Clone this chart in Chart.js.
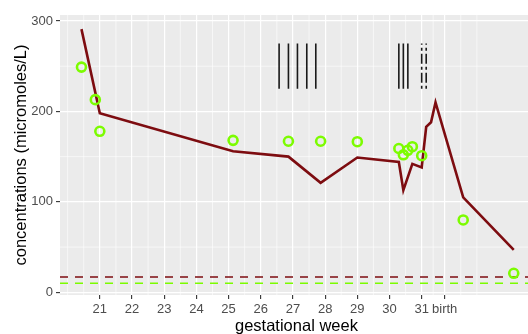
<!DOCTYPE html>
<html>
<head>
<meta charset="utf-8">
<script src="https://cdn.jsdelivr.net/npm/chart.js@4/dist/chart.umd.min.js"></script>
<style>
html,body{margin:0;padding:0;overflow:hidden;background:#fff;}
#wrap{width:540px;height:334px;}
</style>
</head>
<body>
<div id="wrap"><canvas id="c" width="540" height="334"></canvas></div>
<script>
// ---- data ----
const xTickValues = [21, 22, 23, 24, 25, 26, 27, 28, 29, 30, 31, 31.714];
const xTickLabels = ['21', '22', '23', '24', '25', '26', '27', '28', '29', '30', '31', 'birth'];
const yTickValues = [0, 100, 200, 300];
const xMinorGrid = [20, 20.5, 21.5, 22.5, 23.5, 24.5, 25.5, 26.5, 27.5, 28.5, 29.5, 30.5, 31.357, 32.214, 32.714];
const yMinorGrid = [50, 150, 250];

const lineWeeks  = [20.43, 21.0, 25.14, 26.86, 27.86, 29.0, 30.29, 30.43, 30.71, 31.0, 31.14, 31.29, 31.43, 32.29, 33.86];
const lineValues = [291,   198,  156,   150,   121,   149,  144,   113,   142,   138,  183,   188,   210,   105,   47];

const circleWeeks  = [20.43, 20.86, 21.0, 25.14, 26.86, 27.86, 29.0, 30.29, 30.43, 30.57, 30.71, 31.0, 32.29, 33.86];
const circleValues = [249,   213,   178,  168,   167,   167,   166.5, 159,  152,   157,   161,   151,  80,    21];

const solidEventWeeks  = [26.57, 26.86, 27.14, 27.43, 27.71, 30.29, 30.43, 30.57];
const dashedEventWeeks = [31.0, 31.14];
const eventLow = 225, eventHigh = 275;

const redLimit = 17;
const greenLimit = 10;

const xMin = 19.763, xMax = 34.455;
const yMin = -3, yMax = 306.6;

// ---- build datasets ----
const pts = (xs, ys) => xs.map((x, i) => ({x: x, y: ys[i]}));
const segs = (xs) => {
  const out = [];
  xs.forEach(x => { out.push({x: x, y: eventLow}, {x: x, y: eventHigh}, {x: x, y: null}); });
  return out;
};

const RED = '#7d0c10';
const GREEN = '#7CFC00';

const bgPlugin = {
  id: 'panel',
  beforeDraw(chart) {
    const {ctx, chartArea: a, scales} = chart;
    ctx.save();
    ctx.fillStyle = '#EBEBEB';
    ctx.fillRect(a.left, a.top, a.right - a.left, a.bottom - a.top);
    ctx.strokeStyle = '#ffffff';
    ctx.lineWidth = 0.6;
    xMinorGrid.forEach(v => {
      const px = scales.x.getPixelForValue(v);
      ctx.beginPath(); ctx.moveTo(px, a.top); ctx.lineTo(px, a.bottom); ctx.stroke();
    });
    yMinorGrid.forEach(v => {
      const py = scales.y.getPixelForValue(v);
      ctx.beginPath(); ctx.moveTo(a.left, py); ctx.lineTo(a.right, py); ctx.stroke();
    });
    ctx.restore();
  }
};

const font = "'Liberation Sans', Arial, Helvetica, sans-serif";

new Chart(document.getElementById('c'), {
  type: 'scatter',
  data: {
    datasets: [
      { data: [{x: xMin, y: redLimit}, {x: xMax, y: redLimit}], showLine: true, borderColor: RED, borderWidth: 1.5, borderDash: [8, 7], pointRadius: 0, order: 5 },
      { data: [{x: xMin, y: greenLimit}, {x: xMax, y: greenLimit}], showLine: true, borderColor: GREEN, borderWidth: 1.5, borderDash: [8, 7], pointRadius: 0, order: 5 },
      { data: segs(solidEventWeeks), showLine: true, spanGaps: false, borderColor: '#1a1a1a', borderWidth: 1.6, pointRadius: 0, order: 4 },
      { data: segs(dashedEventWeeks), showLine: true, spanGaps: false, borderColor: '#1a1a1a', borderWidth: 1.6, borderDash: [3, 3, 10, 3], pointRadius: 0, order: 4 },
      { data: pts(lineWeeks, lineValues), showLine: true, borderColor: RED, borderWidth: 2.6, pointRadius: 0, tension: 0, order: 2 },
      { data: pts(circleWeeks, circleValues), showLine: false, pointRadius: 4.5, pointBorderWidth: 2.6, pointBorderColor: GREEN, pointBackgroundColor: 'rgba(0,0,0,0)', order: 1 }
    ]
  },
  options: {
    responsive: false,
    animation: false,
    events: [],
    layout: { padding: { top: 15, right: 3, left: 0, bottom: 0 } },
    plugins: { legend: { display: false }, tooltip: { enabled: false } },
    scales: {
      x: {
        type: 'linear', min: xMin, max: xMax,
        afterBuildTicks: s => { s.ticks = xTickValues.map(v => ({value: v})); },
        afterFit: s => { s.height = 39; s.paddingLeft = 0; s.paddingRight = 0; },
        border: { display: false },
        grid: { color: '#ffffff', lineWidth: 1.2, tickColor: '#333333', tickWidth: 1.1, tickLength: 4 },
        ticks: {
          autoSkip: false, maxRotation: 0, padding: 2.5, color: '#4D4D4D',
          font: { family: font, size: 13 },
          callback: (v, i) => xTickLabels[i]
        },
        title: { display: true, text: 'gestational week', color: '#000000', font: { family: font, size: 16.5, lineHeight: 0.96 }, padding: { top: 0, bottom: 0 } }
      },
      y: {
        type: 'linear', min: yMin, max: yMax,
        afterBuildTicks: s => { s.ticks = yTickValues.map(v => ({value: v})); },
        afterFit: s => { s.width = 60; },
        border: { display: false },
        grid: { color: '#ffffff', lineWidth: 1.2, tickColor: '#333333', tickWidth: 1.1, tickLength: 4 },
        ticks: { padding: 3, color: '#4D4D4D', font: { family: font, size: 13 }, callback: v => String(v) },
        title: { display: true, text: 'concentrations (micromoles/L)', color: '#000000', font: { family: font, size: 16.5 }, padding: { top: 12, bottom: 0 } }
      }
    }
  },
  plugins: [bgPlugin]
});
</script>
</body>
</html>
